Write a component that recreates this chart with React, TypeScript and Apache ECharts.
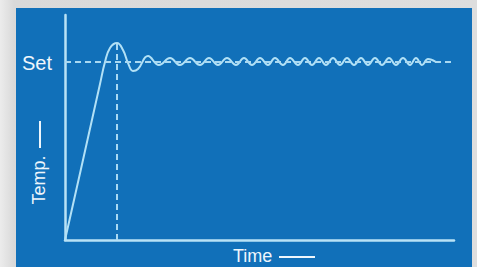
import React, { useEffect, useRef } from "react";
import * as echarts from "echarts";

// time (x, arbitrary units) and temperature (y, arbitrary units)
const timeValues = [
  0, 20, 35, 40, 45, 52, 58, 63, 68, 73, 83,
  94, 105, 115, 125, 135, 144, 153, 162, 171, 179, 187, 195, 203, 210,
  218, 225, 233, 240, 247, 254, 261, 268, 275, 282, 289, 296, 303, 310,
  317, 324, 331, 338, 345, 351, 357, 363, 371,
];
const tempValues = [
  0, 89, 156, 178, 192, 197, 190, 177, 169, 171, 184,
  175, 182, 175, 182, 175, 182, 175, 182, 175, 182, 175, 182, 175, 182,
  175, 182, 175, 182, 175, 182, 175, 182, 175, 182, 175, 182, 175, 182,
  175, 182, 175, 182, 175, 182, 175, 181, 178,
];
const setPoint = 178;
const peakTime = 52;
const peakTemp = 197;
const setLineEnd = 387;
const xLabel = "Time";
const yLabel = "Temp.";
const setLabel = "Set";

export default function App() {
  const ref = useRef<HTMLDivElement>(null);
  useEffect(() => {
    if (!ref.current) return;
    const chart = echarts.init(ref.current, null, { renderer: "svg" });
    const lineColor = "#b9e2f6";
    const textColor = "#eef6fc";
    const font = "'Liberation Sans', Arial, sans-serif";
    chart.setOption({
      animation: false,
      backgroundColor: "transparent",
      grid: { left: 65, right: 23, top: 15, bottom: 27 },
      xAxis: {
        type: "value",
        min: 0,
        max: 389,
        axisLine: { show: true, lineStyle: { color: lineColor, width: 2.5 } },
        axisTick: { show: false },
        axisLabel: { show: false },
        splitLine: { show: false },
      },
      yAxis: {
        type: "value",
        min: 0,
        max: 225,
        axisLine: { show: true, lineStyle: { color: lineColor, width: 2.5 } },
        axisTick: { show: false },
        axisLabel: { show: false },
        splitLine: { show: false },
      },
      series: [
        {
          type: "line",
          data: timeValues.map((t, i) => [t, tempValues[i]]),
          smooth: 0.45,
          showSymbol: false,
          lineStyle: { color: "#b2e1f6", width: 2 },
          markLine: {
            silent: true,
            symbol: ["none", "none"],
            label: { show: false },
            lineStyle: { color: "#a9d9f2", width: 2, type: [6, 4] },
            data: [
              [{ coord: [0, setPoint] }, { coord: [setLineEnd, setPoint] }],
              [{ coord: [peakTime, 0] }, { coord: [peakTime, peakTemp] }],
            ],
          },
        },
      ],
      graphic: [
        {
          type: "text",
          left: 22,
          top: 53,
          style: { text: setLabel, fill: textColor, font: `20px ${font}` },
        },
        {
          type: "text",
          x: 233,
          y: 256,
          style: {
            text: xLabel,
            fill: textColor,
            font: `18px ${font}`,
            verticalAlign: "middle",
          },
        },
        {
          type: "line",
          shape: { x1: 279, y1: 257, x2: 315, y2: 257 },
          style: { stroke: textColor, lineWidth: 2 },
        },
        {
          type: "text",
          x: 39,
          y: 180,
          rotation: Math.PI / 2,
          style: {
            text: yLabel,
            fill: textColor,
            font: `18px ${font}`,
            align: "center",
            verticalAlign: "middle",
          },
        },
        {
          type: "line",
          shape: { x1: 40, y1: 121, x2: 40, y2: 148 },
          style: { stroke: textColor, lineWidth: 2 },
        },
      ],
    });
    return () => chart.dispose();
  }, []);
  return (
    <div
      style={{
        position: "fixed",
        left: 0,
        top: 0,
        width: 477,
        height: 267,
        background: "linear-gradient(to right, #ececec 0px, #d9d9d9 14px, #dedede 477px)",
        overflow: "hidden",
      }}
    >
      <div
        style={{
          position: "absolute",
          left: 16,
          top: 8,
          width: 456,
          height: 259,
          background: "#1170b9",
        }}
      />
      <div ref={ref} style={{ position: "absolute", left: 0, top: 0, width: 477, height: 267 }} />
    </div>
  );
}
